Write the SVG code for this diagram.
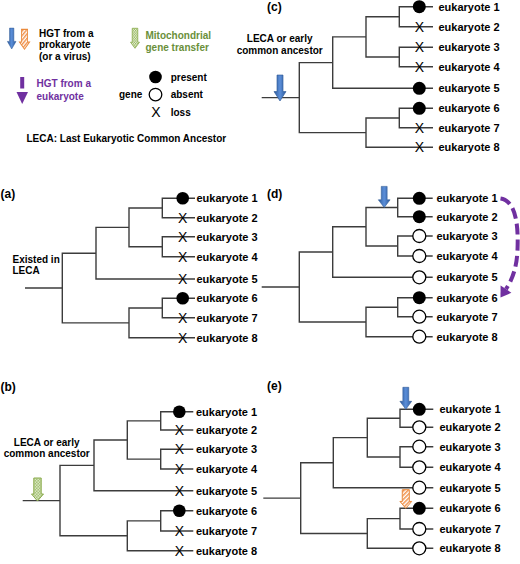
<svg xmlns="http://www.w3.org/2000/svg" width="520" height="564" viewBox="0 0 520 564">
<style>
text{font-family:"Liberation Sans",Arial,sans-serif;font-weight:bold;fill:#000}
.t{font-size:11px}
.l{font-size:10px}
.pl{font-size:12px}
.x{font-size:14px;font-weight:normal;text-anchor:middle}
.c{text-anchor:middle}
.tree{fill:none;stroke:#3c3c3c;stroke-width:1.4}
.on{fill:#000}
.off{fill:#fff;stroke:#000;stroke-width:1.3}
.blue{fill:url(#gBlue);stroke:#2f5a96;stroke-width:0.6}
.orange{fill:url(#hO);stroke:#ea8a3c;stroke-width:1}
.green{fill:url(#dG);stroke:#8aab4c;stroke-width:1}
</style>
<defs>
<linearGradient id="gBlue" x1="0" y1="0" x2="1" y2="0">
<stop offset="0" stop-color="#2d5a9c"/><stop offset="0.5" stop-color="#5b8ed8"/><stop offset="1" stop-color="#2d5a9c"/>
</linearGradient>
<pattern id="hO" width="3" height="3" patternUnits="userSpaceOnUse" patternTransform="rotate(45)">
<rect width="3" height="3" fill="#fff"/><rect width="1.5" height="3" fill="#f0904a"/>
</pattern>
<pattern id="dG" width="3" height="3" patternUnits="userSpaceOnUse">
<rect width="3" height="3" fill="#eef4e0"/><rect width="1.5" height="1.5" fill="#8fb356"/><rect x="1.5" y="1.5" width="1.5" height="1.5" fill="#8fb356"/>
</pattern>
<path id="arB" d="M-3 -22H3V-8H6L0 0L-6 -8H-3Z"/>
<path id="arO" d="M-3.6 -19H3.6V-7H6L0 0L-6 -7H-3.6Z"/>
<path id="arG" d="M-3.7 -23H3.7V-7H6L0 0L-6 -7H-3.7Z"/>
</defs>

<g id="legend">
<use href="#arB" class="blue" transform="translate(11.7 49) scale(0.72 0.95)"/>
<use href="#arO" class="orange" transform="translate(24.5 49.3) scale(0.85 1.05)"/>
<text class="l" x="39" y="36.7">HGT from a</text>
<text class="l" x="39" y="48.3">prokaryote</text>
<text class="l" x="39" y="60">(or a virus)</text>
<use href="#arG" class="green" transform="translate(135 48.3) scale(0.75 0.87)"/>
<text class="l" x="145.5" y="39" style="fill:#6a8f3a">Mitochondrial</text>
<text class="l" x="145.5" y="50.6" style="fill:#6a8f3a">gene transfer</text>
<rect x="20.2" y="77" width="4" height="11.5" fill="#7030a0"/>
<polygon points="16.5,92 28,92 22.2,104" fill="#7030a0"/>
<text class="l" x="36.5" y="87.3" style="fill:#7030a0">HGT from a</text>
<text class="l" x="36.5" y="99.5" style="fill:#7030a0">eukaryote</text>
<text class="l" x="119" y="98">gene</text>
<circle class="on" cx="155.5" cy="77" r="6.3"/>
<circle class="off" cx="155.5" cy="94.6" r="6.3"/>
<text class="x" x="156" y="117.3">X</text>
<text class="l" x="170.7" y="80.5">present</text>
<text class="l" x="170.7" y="98">absent</text>
<text class="l" x="170.7" y="115.5">loss</text>
<text class="l" x="26.5" y="142">LECA: Last Eukaryotic Common Ancestor</text>
</g>

<g id="connectors">
<path class="tree" d="M25 288H62.3M96 253.2H62.3V322.85H129M129 227.35H96V279H195M162.3 208H129V246.7H162.3M195 198.3H162.3V217.7H195M195 236.7H162.3V256.7H195M162.3 308H129V337.7H195M195 298.3H162.3V317.7H195"/>
<path class="tree" d="M22.7 500.6H60M94 465.35H60V535.8H127.3M127.3 440H94V490.7H193.3M160.7 420.85H127.3V459.15H160.7M193.3 411.7H160.7V430H193.3M193.3 449.3H160.7V469H193.3M160.7 520.85H127.3V550.7H193.3M193.3 510.7H160.7V531H193.3"/>
<path class="tree" d="M261.7 97.6H299.3M332.7 62.6H299.3V132.65H366M366 36.85H332.7V88.3H433M399.3 16.7H366V57H399.3M433 6.7H399.3V26.7H433M433 47.3H399.3V66.7H433M399.3 118H366V147.3H433M433 108.3H399.3V127.7H433"/>
<path class="tree" d="M261.7 287H299.3M332.7 252H299.3V322H366M366 226.75H332.7V277.3H432.7M397.7 207.5H366V246H397.7M432.7 198.3H397.7V216.7H432.7M432.7 236H397.7V256H432.7M397.7 307.2H366V336.7H432.7M432.7 297.7H397.7V316.7H432.7"/>
<path class="tree" d="M263.3 498.1H300.7M333.3 462.7H300.7V533.5H367.3M367.3 437.65H333.3V487.7H433.3M400 418.3H367.3V457H400M433.3 409.3H400V427.3H433.3M433.3 446.7H400V467.3H433.3M400 518.65H367.3V548.3H433.3M433.3 508.3H400V529H433.3"/>
<path d="M500.5 198.5C516 201 518.5 225 517.5 250C516.8 268 512 280 506 289.2" fill="none" stroke="#7030a0" stroke-width="4" stroke-dasharray="11 5"/>
<polygon points="500.5,297.5 511.4,292.8 500.6,285.6" fill="#7030a0"/>
</g>

<g id="panel-a">
<text class="pl" x="0.5" y="198.4">(a)</text>
<text class="l" x="12.5" y="262.5">Existed in</text>
<text class="l" x="12.5" y="274">LECA</text>
<g id="a1"><circle class="on" cx="182.7" cy="198.3" r="6.3"/><text class="t" x="196.5" y="202.1">eukaryote 1</text></g>
<g id="a2"><text class="x" x="182.7" y="222.7">X</text><text class="t" x="196.5" y="221.5">eukaryote 2</text></g>
<g id="a3"><text class="x" x="182.7" y="241.7">X</text><text class="t" x="196.5" y="240.5">eukaryote 3</text></g>
<g id="a4"><text class="x" x="182.7" y="261.7">X</text><text class="t" x="196.5" y="260.5">eukaryote 4</text></g>
<g id="a5"><text class="x" x="182.7" y="284">X</text><text class="t" x="196.5" y="282.8">eukaryote 5</text></g>
<g id="a6"><circle class="on" cx="182.7" cy="298.3" r="6.3"/><text class="t" x="196.5" y="302.1">eukaryote 6</text></g>
<g id="a7"><text class="x" x="182.7" y="322.7">X</text><text class="t" x="196.5" y="321.5">eukaryote 7</text></g>
<g id="a8"><text class="x" x="182.7" y="342.7">X</text><text class="t" x="196.5" y="341.5">eukaryote 8</text></g>
</g>

<g id="panel-b">
<text class="pl" x="0.5" y="390.6">(b)</text>
<text class="l c" x="46.7" y="445.5">LECA or early</text>
<text class="l c" x="46.7" y="457.2">common ancestor</text>
<use href="#arG" class="green" transform="translate(37.5 501)"/>
<g id="b1"><circle class="on" cx="179.3" cy="411.7" r="6.3"/><text class="t" x="196" y="415.5">eukaryote 1</text></g>
<g id="b2"><text class="x" x="179.3" y="435">X</text><text class="t" x="196" y="433.8">eukaryote 2</text></g>
<g id="b3"><text class="x" x="179.3" y="454.3">X</text><text class="t" x="196" y="453.1">eukaryote 3</text></g>
<g id="b4"><text class="x" x="179.3" y="474">X</text><text class="t" x="196" y="472.8">eukaryote 4</text></g>
<g id="b5"><text class="x" x="179.3" y="495.7">X</text><text class="t" x="196" y="494.5">eukaryote 5</text></g>
<g id="b6"><circle class="on" cx="179.3" cy="510.7" r="6.3"/><text class="t" x="196" y="514.5">eukaryote 6</text></g>
<g id="b7"><text class="x" x="179.3" y="536">X</text><text class="t" x="196" y="534.8">eukaryote 7</text></g>
<g id="b8"><text class="x" x="179.3" y="555.7">X</text><text class="t" x="196" y="554.5">eukaryote 8</text></g>
</g>

<g id="panel-c">
<text class="pl" x="267" y="10.6">(c)</text>
<text class="l c" x="279.7" y="42">LECA or early</text>
<text class="l c" x="279.7" y="53.6">common ancestor</text>
<use href="#arB" class="blue" transform="translate(280 101) scale(1 1.18)"/>
<g id="c1"><circle class="on" cx="419.3" cy="6.7" r="6.5"/><text class="t" x="438.5" y="10.5">eukaryote 1</text></g>
<g id="c2"><text class="x" x="419.3" y="31.7">X</text><text class="t" x="438.5" y="30.5">eukaryote 2</text></g>
<g id="c3"><text class="x" x="419.3" y="52.3">X</text><text class="t" x="438.5" y="51.1">eukaryote 3</text></g>
<g id="c4"><text class="x" x="419.3" y="71.7">X</text><text class="t" x="438.5" y="70.5">eukaryote 4</text></g>
<g id="c5"><circle class="on" cx="419.3" cy="88.3" r="6.5"/><text class="t" x="438.5" y="92.1">eukaryote 5</text></g>
<g id="c6"><circle class="on" cx="419.3" cy="108.3" r="6.5"/><text class="t" x="438.5" y="112.1">eukaryote 6</text></g>
<g id="c7"><text class="x" x="419.3" y="132.7">X</text><text class="t" x="438.5" y="131.5">eukaryote 7</text></g>
<g id="c8"><text class="x" x="419.3" y="152.3">X</text><text class="t" x="438.5" y="151.1">eukaryote 8</text></g>
</g>

<g id="panel-d">
<text class="pl" x="267" y="198.4">(d)</text>
<use href="#arB" class="blue" transform="translate(384.2 207.5) scale(0.98 0.96)"/>
<g id="d1"><circle class="on" cx="419.3" cy="198.3" r="6.5"/><text class="t" x="436.5" y="202.1">eukaryote 1</text></g>
<g id="d2"><circle class="on" cx="419.3" cy="216.7" r="6.5"/><text class="t" x="436.5" y="220.5">eukaryote 2</text></g>
<g id="d3"><circle class="off" cx="419.3" cy="236" r="6.5"/><text class="t" x="436.5" y="239.8">eukaryote 3</text></g>
<g id="d4"><circle class="off" cx="419.3" cy="256" r="6.5"/><text class="t" x="436.5" y="259.8">eukaryote 4</text></g>
<g id="d5"><circle class="off" cx="419.3" cy="277.3" r="6.5"/><text class="t" x="436.5" y="281.1">eukaryote 5</text></g>
<g id="d6"><circle class="on" cx="419.3" cy="297.7" r="6.5"/><text class="t" x="436.5" y="301.5">eukaryote 6</text></g>
<g id="d7"><circle class="off" cx="419.3" cy="316.7" r="6.5"/><text class="t" x="436.5" y="320.5">eukaryote 7</text></g>
<g id="d8"><circle class="off" cx="419.3" cy="336.7" r="6.5"/><text class="t" x="436.5" y="340.5">eukaryote 8</text></g>
</g>

<g id="panel-e">
<text class="pl" x="267" y="390">(e)</text>
<use href="#arB" class="blue" transform="translate(405.8 409.3) scale(0.98 1)"/>
<use href="#arO" class="orange" transform="translate(405.8 508.3) scale(0.98 0.98)"/>
<g id="e1"><circle class="on" cx="419.3" cy="409.3" r="6.5"/><text class="t" x="439.5" y="413.1">eukaryote 1</text></g>
<g id="e2"><circle class="off" cx="419.3" cy="427.3" r="6.5"/><text class="t" x="439.5" y="431.1">eukaryote 2</text></g>
<g id="e3"><circle class="off" cx="419.3" cy="446.7" r="6.5"/><text class="t" x="439.5" y="450.5">eukaryote 3</text></g>
<g id="e4"><circle class="off" cx="419.3" cy="467.3" r="6.5"/><text class="t" x="439.5" y="471.1">eukaryote 4</text></g>
<g id="e5"><circle class="off" cx="419.3" cy="487.7" r="6.5"/><text class="t" x="439.5" y="491.5">eukaryote 5</text></g>
<g id="e6"><circle class="on" cx="419.3" cy="508.3" r="6.5"/><text class="t" x="439.5" y="512.1">eukaryote 6</text></g>
<g id="e7"><circle class="off" cx="419.3" cy="529" r="6.5"/><text class="t" x="439.5" y="532.8">eukaryote 7</text></g>
<g id="e8"><circle class="off" cx="419.3" cy="548.3" r="6.5"/><text class="t" x="439.5" y="552.1">eukaryote 8</text></g>
</g>
</svg>
